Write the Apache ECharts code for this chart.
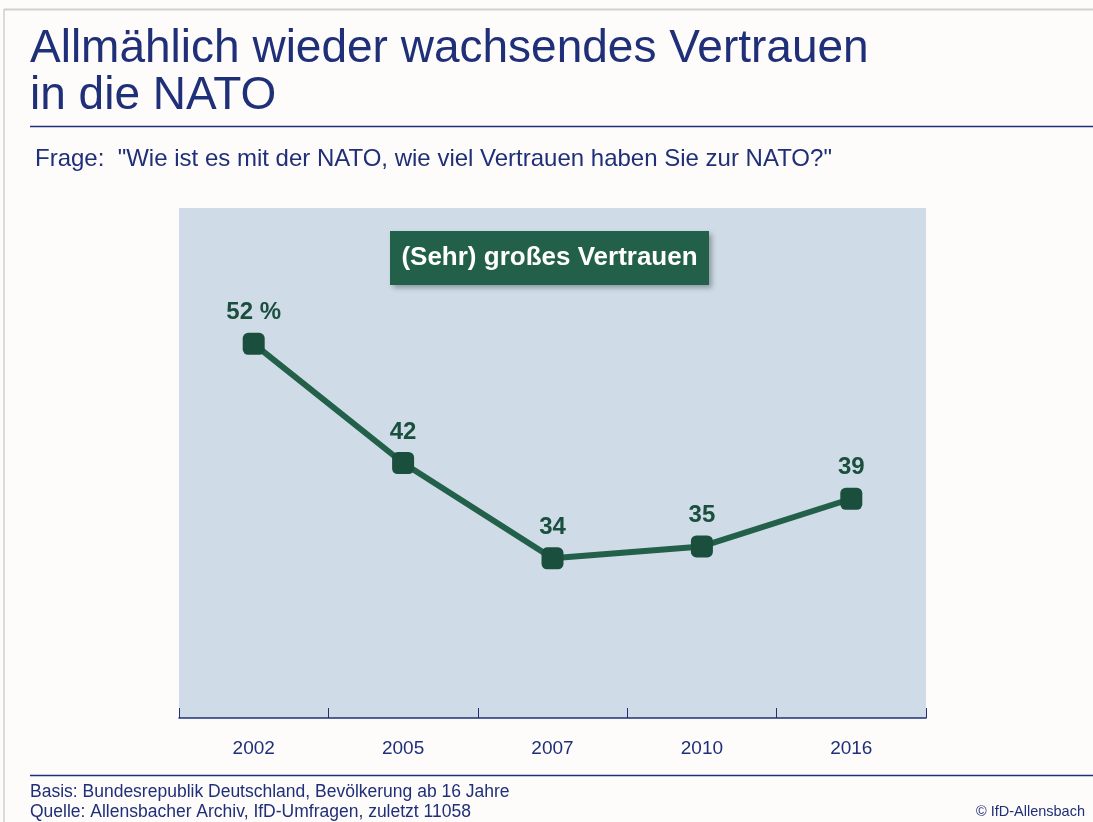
<!DOCTYPE html>
<html>
<head>
<meta charset="utf-8">
<script src="https://cdn.jsdelivr.net/npm/echarts@6/dist/echarts.min.js"></script>
<style>
html,body{margin:0;padding:0;background:#fdfcfb;}
#main{width:1093px;height:822px;}
</style>
</head>
<body>
<div id="main"></div>
<script>
/*类别与数值*/
var years = ['2002', '2005', '2007', '2010', '2016'];
var trustValues = [52, 42, 34, 35, 39];
var valueLabels = ['52 %', '42', '34', '35', '39'];

var blue = '#1f2f78';
var green = '#23604a';
var font = 'Liberation Sans';

var chart = echarts.init(document.getElementById('main'));
var option = {
	backgroundColor: '#fdfcfb',
	animation: false,
	grid: {
		left: 179, right: 167, top: 208, bottom: 104
	},
	xAxis: {
		type: 'category',
		data: years,
		boundaryGap: true,
		z: 10,
		axisLine: { lineStyle: { color: blue, width: 1.5 } },
		axisTick: { show: true, inside: true, length: 10, interval: 0, lineStyle: { color: blue, width: 1 } },
		axisLabel: { color: blue, fontSize: 19, fontFamily: font, margin: 21 }
	},
	yAxis: {
		type: 'value',
		min: 20.6, max: 63.4,
		show: false,
		splitLine: { show: false }
	},
	series: [{
		type: 'line',
		data: trustValues,
		symbol: 'roundRect',
		symbolSize: 22,
		itemStyle: { color: '#1b4f3d' },
		lineStyle: { color: green, width: 6 },
		label: {
			show: true,
			position: 'top',
			distance: 8,
			color: '#1b4f3d',
			fontSize: 24,
			fontWeight: 'bold',
			fontFamily: font,
			formatter: function (p) { return valueLabels[p.dataIndex]; }
		}
	}],
	graphic: [
		/*外框*/
		{ type: 'line', shape: { x1: 4, y1: 9.5, x2: 1093, y2: 9.5 }, style: { stroke: '#cfcfcf', lineWidth: 2 } },
		{ type: 'line', shape: { x1: 4, y1: 9, x2: 4, y2: 822 }, style: { stroke: '#cfcfcf', lineWidth: 1.5 } },
		/*绘图区背景*/
		{ type: 'rect', z: -10, shape: { x: 179, y: 208, width: 747, height: 510 }, style: { fill: '#cfdce8' } },
		/*标题*/
		{ type: 'text', left: 30, top: 26, style: { text: 'Allmählich wieder wachsendes Vertrauen\nin die NATO', fill: blue, fontSize: 46, lineHeight: 47, fontFamily: font } },
		{ type: 'line', shape: { x1: 30, y1: 126.5, x2: 1093, y2: 126.5 }, style: { stroke: blue, lineWidth: 1.5 } },
		{ type: 'text', left: 35, top: 147, style: { text: 'Frage:  "Wie ist es mit der NATO, wie viel Vertrauen haben Sie zur NATO?"', fill: blue, fontSize: 24, fontFamily: font } },
		/*图例框*/
		{ type: 'rect', shape: { x: 390, y: 231, width: 319, height: 54 }, style: { fill: green, shadowBlur: 5, shadowOffsetX: 3, shadowOffsetY: 3, shadowColor: 'rgba(0,0,0,0.3)' } },
		{ type: 'text', x: 549.5, y: 258, style: { text: '(Sehr) großes Vertrauen', fill: '#ffffff', fontSize: 26, fontWeight: 'bold', fontFamily: font, align: 'center', verticalAlign: 'middle' } },
		/*脚注*/
		{ type: 'line', shape: { x1: 30, y1: 775.5, x2: 1093, y2: 775.5 }, style: { stroke: blue, lineWidth: 1.5 } },
		{ type: 'text', left: 30, top: 782, style: { text: 'Basis: Bundesrepublik Deutschland, Bevölkerung ab 16 Jahre\nQuelle: Allensbacher Archiv, IfD-Umfragen, zuletzt 11058', fill: blue, fontSize: 17.5, lineHeight: 20, fontFamily: font } },
		{ type: 'text', right: 8, top: 804, style: { text: '© IfD-Allensbach', fill: blue, fontSize: 14.5, fontFamily: font } }
	]
};
chart.setOption(option);
</script>
</body>
</html>
